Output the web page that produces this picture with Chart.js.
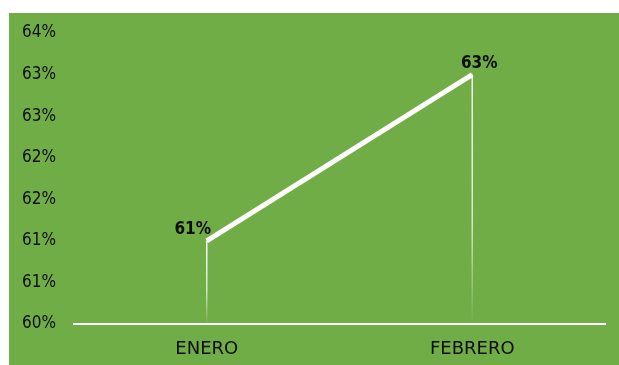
<!DOCTYPE html>
<html>
<head>
<meta charset="utf-8">
<script src="https://cdn.jsdelivr.net/npm/chart.js@4.4.0/dist/chart.umd.min.js"></script>
<style>
  body { margin: 0; background: #fff; }
  #box { position: absolute; left: 9px; top: 13px; width: 610px; height: 352px; background: #70AD47; }
</style>
</head>
<body>
<div id="box"><canvas id="lineChart" width="610" height="352"></canvas></div>
<script>
const months = ['ENERO', 'FEBRERO'];
const values = [61, 63];
const dataLabels = ['61%', '63%'];

const FONT = '"DejaVu Sans Condensed", "DejaVu Sans", sans-serif';

// thin fading lines from each point down to the axis, plus the value labels
const dropLines = {
    id: 'dropLines',
    beforeDatasetsDraw(chart) {
        const ctx = chart.ctx;
        const bottom = chart.chartArea.bottom;
        chart.getDatasetMeta(0).data.forEach(pt => {
            const grad = ctx.createLinearGradient(0, pt.y, 0, bottom);
            grad.addColorStop(0, 'rgba(255,255,255,0.95)');
            grad.addColorStop(0.6, 'rgba(255,255,255,0.7)');
            grad.addColorStop(1, 'rgba(255,255,255,0)');
            ctx.save();
            ctx.strokeStyle = grad;
            ctx.lineWidth = 1.5;
            ctx.beginPath();
            ctx.moveTo(pt.x, pt.y);
            ctx.lineTo(pt.x, bottom);
            ctx.stroke();
            ctx.restore();
        });
    },
    afterDatasetsDraw(chart, args, opts) {
        const ctx = chart.ctx;
        ctx.save();
        ctx.font = 'bold 17px ' + FONT;
        ctx.fillStyle = '#0d0d0d';
        ctx.textAlign = 'center';
        ctx.textBaseline = 'middle';
        chart.getDatasetMeta(0).data.forEach((pt, i) => {
            const off = opts.offsets[i];
            ctx.fillText(dataLabels[i], pt.x + off[0], pt.y + off[1]);
        });
        ctx.restore();
    }
};

new Chart(document.getElementById('lineChart'), {
    type: 'line',
    data: {
        labels: months,
        datasets: [{
            data: values,
            borderColor: '#ffffff',
            borderWidth: 5,
            pointRadius: 0,
            tension: 0
        }]
    },
    options: {
        responsive: false,
        animation: false,
        layout: { padding: { left: 13, right: 14, top: 20, bottom: 0 } },
        plugins: {
            legend: { display: false },
            tooltip: { enabled: false },
            dropLines: { offsets: [[-14, -11], [7, -11]] }
        },
        scales: {
            x: {
                offset: true,
                grid: { display: false },
                border: { display: true, color: '#ffffff', width: 2 },
                ticks: { color: '#0d0d0d', font: { family: '"DejaVu Sans", sans-serif', size: 18 }, padding: 7 },
                afterFit(scale) { scale.height = 41; }
            },
            y: {
                min: 60,
                max: 63.5,
                grid: { display: false },
                border: { display: false },
                ticks: {
                    stepSize: 0.5,
                    color: '#0d0d0d',
                    crossAlign: 'far',
                    font: { family: FONT, size: 17 },
                    callback: v => Math.round(v) + '%'
                },
                afterFit(scale) { scale.width = 52; }
            }
        }
    },
    plugins: [dropLines]
});
</script>
</body>
</html>
